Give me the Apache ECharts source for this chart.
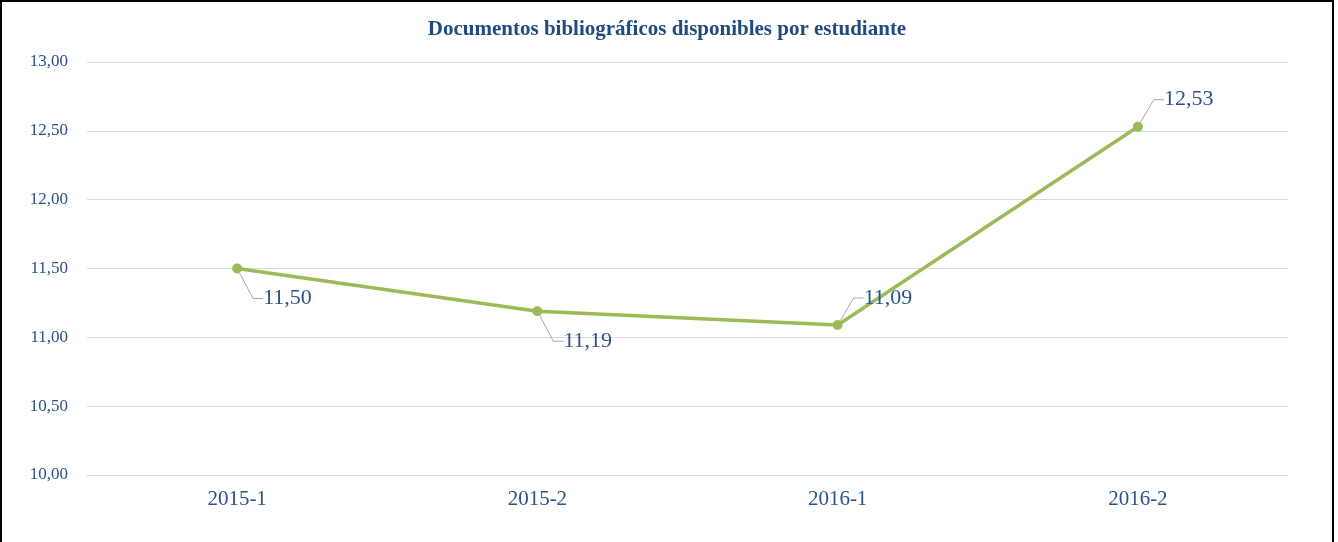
<!DOCTYPE html>
<html>
<head>
<meta charset="utf-8">
<script src="https://cdn.jsdelivr.net/npm/echarts@6/dist/echarts.min.js"></script>
<style>
  html, body { margin: 0; padding: 0; background: #fff; }
  #chart {
    position: absolute; left: 0; top: 0;
    width: 1330px; height: 542px;
    border: 2px solid #000; border-bottom: none;
  }
</style>
</head>
<body>
<div id="chart"></div>
<script>
const categories = ["2015-1", "2015-2", "2016-1", "2016-2"];
const docsPerStudent = [11.50, 11.19, 11.09, 12.53];
const yTicks = { min: 10, max: 13, step: 0.5 };

const textBlue = "#2a5189";
const serif = "'Liberation Serif', 'Times New Roman', serif";
const fmt = (v) => Number(v).toFixed(2).replace(".", ",");

const chart = echarts.init(document.getElementById("chart"));

chart.setOption({
  animation: false,
  title: {
    text: "Documentos bibliográficos disponibles por estudiante",
    left: "center",
    top: 12,
    textStyle: { fontFamily: serif, fontSize: 21, fontWeight: "bold", color: "#1f4b80" }
  },
  grid: { left: 85, right: 44, top: 60, bottom: 69 },
  xAxis: {
    type: "category",
    data: categories,
    boundaryGap: true,
    axisLine: { lineStyle: { color: "#d9d9d9", width: 1 } },
    axisTick: { show: false },
    axisLabel: { color: textBlue, fontFamily: serif, fontSize: 21, margin: 14 }
  },
  yAxis: {
    type: "value",
    min: yTicks.min,
    max: yTicks.max,
    interval: yTicks.step,
    axisLine: { show: false },
    axisTick: { show: false },
    splitLine: { lineStyle: { color: "#d9d9d9", width: 1 } },
    axisLabel: {
      color: textBlue, fontFamily: serif, fontSize: 17, margin: 19,
      formatter: (v) => fmt(v)
    }
  },
  series: [{
    type: "line",
    data: docsPerStudent,
    symbol: "circle",
    symbolSize: 10,
    itemStyle: { color: "#9bbb59" },
    lineStyle: { color: "#9bbb59", width: 3.5 },
    label: {
      show: true,
      position: "right",
      distance: 4,
      padding: [0, 0, 0, 5],
      color: textBlue,
      fontFamily: serif,
      fontSize: 22,
      formatter: (p) => fmt(p.value)
    },
    labelLine: {
      show: true,
      length2: 10,
      lineStyle: { color: "#a6a6a6", width: 1 }
    },
    labelLayout: (p) => ({
      dx: 12,
      dy: p.dataIndex < 2 ? 30 : -27
    })
  }]
});
</script>
</body>
</html>
